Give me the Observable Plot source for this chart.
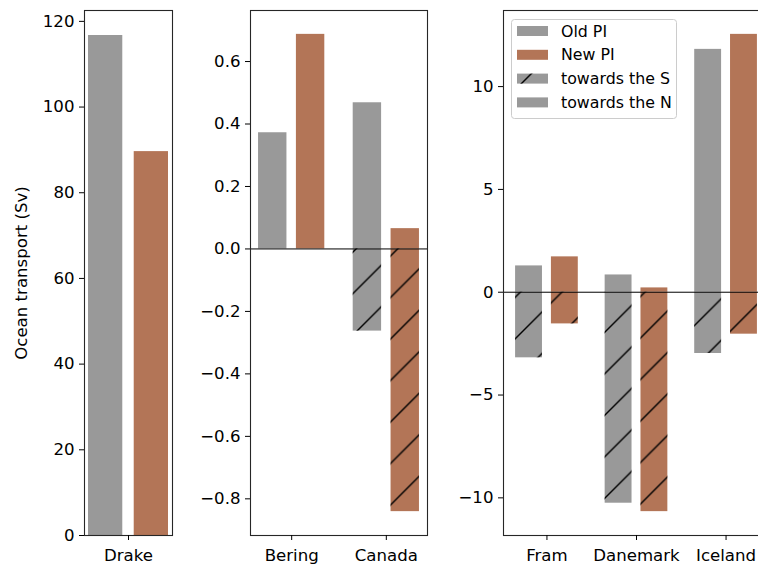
<!DOCTYPE html>
<html><head><meta charset="utf-8">
<script src="https://cdn.jsdelivr.net/npm/d3@7"></script>
<script src="https://cdn.jsdelivr.net/npm/@observablehq/plot@0.6"></script>
<style>
html,body{margin:0;padding:0;background:#fff;}
#chart{position:relative;width:758px;height:565px;overflow:hidden;background:#fff;}
</style></head><body><div id="chart"></div>
<script>
// ---- data ----
const straits = ["Drake", "Bering", "Canada", "Fram", "Danemark", "Iceland"];
const panelOf = [0, 1, 1, 2, 2, 2];
const series = ["Old PI", "New PI"];
const oldNorth = [116.7, 0.372, 0.468, 1.28, 0.84, 11.81];
const oldSouth = [0, 0, -0.263, -3.19, -10.26, -2.98];
const newNorth = [89.6, 0.687, 0.065, 1.72, 0.21, 12.54];
const newSouth = [0, 0, -0.841, -1.54, -10.67, -2.04];
const legendLabels = ["Old PI", "New PI", "towards the S", "towards the N"];
const yLabel = "Ocean transport (Sv)";

// ---- layout / style ----
const W = 770, H = 565, TOP = 10, BOTTOM = 535;
const frames = [[84, 172], [250, 427], [503, 769]];
const GRAY = "#999999", ORANGE = "#b37557";
const HATCH = 41.5, HATCH_PHASE = 24;
const FONT = "DejaVu Sans", FS = 16.6, LFS = 15.8;
const tickCounts = [6, 8, 5];
const formats = [d3.format("d"), d3.format(".1f"), d3.format("d")];

const chart = document.getElementById("chart");

function addHatch(svg, id) {
  const defs = d3.select(svg).insert("defs", ":first-child");
  const pat = defs.append("pattern").attr("id", id)
    .attr("patternUnits", "userSpaceOnUse")
    .attr("x", HATCH_PHASE).attr("y", 0)
    .attr("width", HATCH).attr("height", HATCH);
  pat.append("path")
    .attr("d", `M-3,3 L3,-3 M0,${HATCH} L${HATCH},0 M${HATCH-3},${HATCH+3} L${HATCH+3},${HATCH-3}`)
    .attr("stroke", "#000").attr("stroke-width", 1.4).attr("fill", "none");
}

for (let p = 0; p < 3; p++) {
  const idxs = straits.map((s, i) => i).filter(i => panelOf[i] === p);
  const cats = idxs.map(i => straits[i]);
  const rows = [];
  idxs.forEach((gi, k) => series.forEach((s, j) => rows.push({
    cat: straits[gi], pos: k, off: j === 0 ? -0.2 : 0.2, series: s,
    north: (j ? newNorth : oldNorth)[gi], south: (j ? newSouth : oldSouth)[gi]
  })));
  const n = cats.length;
  const xlo = -0.35, xhi = n - 1 + 0.35, xm = 0.05 * (xhi - xlo);
  const vals = rows.flatMap(d => [d.north, d.south, 0]);
  const lo = d3.min(vals), hi = d3.max(vals), r = hi - lo;
  const yDomain = [lo === 0 ? 0 : lo - 0.05 * r, hi + 0.05 * r];
  const yTicks = d3.ticks(yDomain[0], yDomain[1], tickCounts[p]);
  const hid = "hatch" + p;
  const south = rows.filter(d => d.south < 0);
  const bx1 = d => d.pos + d.off - 0.15, bx2 = d => d.pos + d.off + 0.15;

  const svg = Plot.plot({
    width: W, height: H,
    marginLeft: frames[p][0], marginRight: W - frames[p][1],
    marginTop: TOP, marginBottom: H - BOTTOM,
    style: {position: "absolute", left: "0px", top: "0px", maxWidth: "none",
            background: "none", overflow: "visible", fontFamily: FONT,
            fontSize: FS + "px", color: "black"},
    x: {type: "linear", domain: [xlo - xm, xhi + xm]},
    y: {domain: yDomain},
    color: {domain: series, range: [GRAY, ORANGE]},
    marks: [
      Plot.rect(rows, {x1: bx1, x2: bx2, y1: 0, y2: "north", fill: "series"}),
      Plot.rect(south, {x1: bx1, x2: bx2, y1: "south", y2: 0, fill: "series"}),
      Plot.rect(south, {x1: bx1, x2: bx2, y1: "south", y2: 0, fill: `url(#${hid})`}),
      p > 0 ? Plot.ruleY([0], {stroke: "black", strokeWidth: 1}) : null,
      Plot.frame({stroke: "#262626", strokeWidth: 1.1}),
      Plot.axisY({ticks: yTicks, tickFormat: formats[p], tickSize: 5, tickPadding: 5, label: null, fontSize: FS}),
      Plot.axisX({ticks: d3.range(n), tickFormat: i => cats[i], tickSize: 5, tickPadding: 9, label: null, fontSize: FS}),
      p === 0 ? Plot.text([yLabel], {text: d => d, frameAnchor: "left", dx: -58, rotate: -90,
                                      lineAnchor: "bottom", textAnchor: "middle", fontSize: FS, fill: "black"}) : null
    ]
  });
  addHatch(svg, hid);

  if (p === 2) {
    const g = d3.select(svg).append("g").attr("font-family", FONT).attr("font-size", LFS)
      .attr("text-anchor", "start");
    g.append("rect").attr("x", 511.5).attr("y", 19.5).attr("width", 165).attr("height", 99)
      .attr("rx", 3).attr("fill", "white").attr("fill-opacity", 0.8).attr("stroke", "#cccccc");
    const fills = [GRAY, ORANGE, GRAY, GRAY];
    legendLabels.forEach((lab, k) => {
      const cy = 31 + k * 23.8;
      g.append("rect").attr("x", 517).attr("y", cy - 5).attr("width", 31).attr("height", 10).attr("fill", fills[k]);
      if (k === 2) g.append("rect").attr("x", 517).attr("y", cy - 5).attr("width", 31).attr("height", 10).attr("fill", `url(#${hid})`);
      g.append("text").attr("x", 561).attr("y", cy).attr("dy", "0.35em")
        .attr("text-anchor", "start").attr("fill", "black").text(lab);
    });
  }
  chart.appendChild(svg);
}
</script></body></html>
